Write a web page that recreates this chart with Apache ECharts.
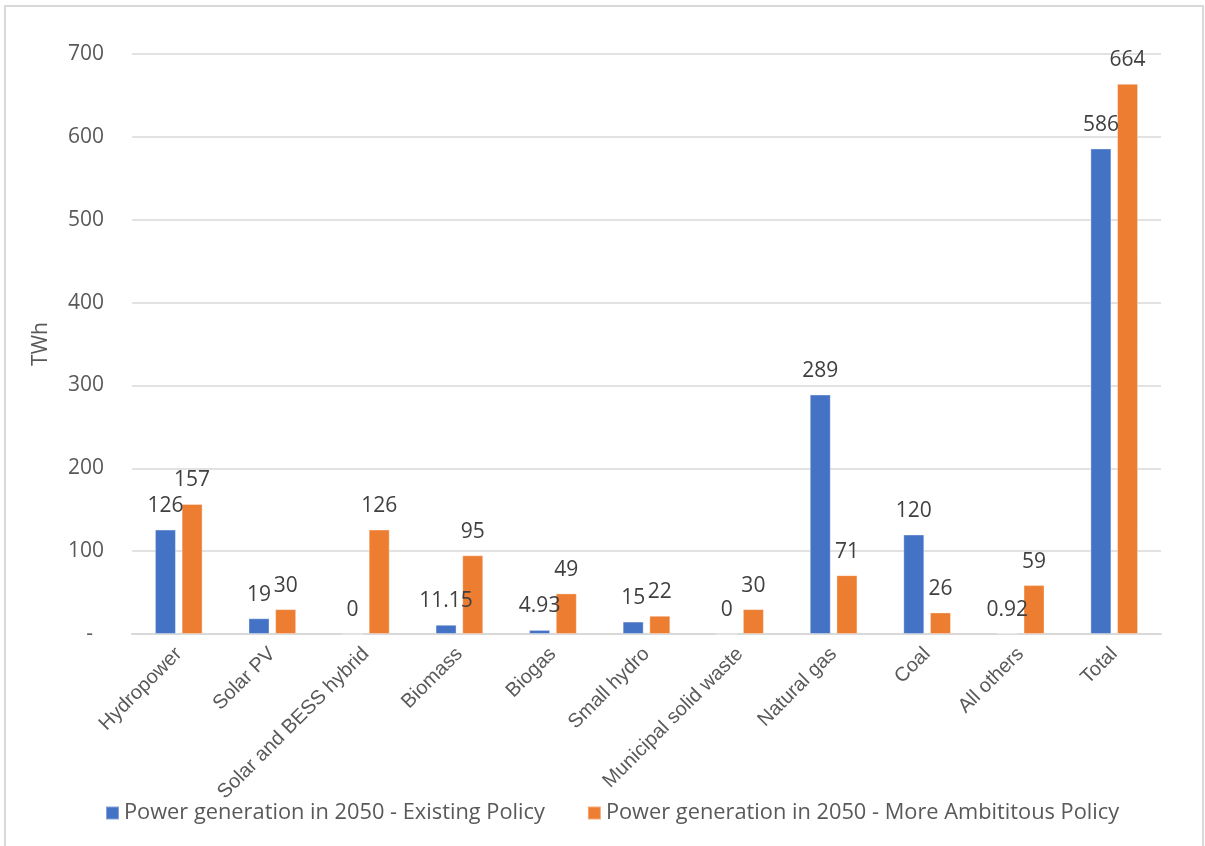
<!DOCTYPE html>
<html>
<head>
<meta charset="utf-8">
<script src="https://cdn.jsdelivr.net/npm/echarts@6/dist/echarts.min.js"></script>
<style>
  html, body { margin: 0; padding: 0; background: #ffffff; }
  #chart { width: 1205px; height: 846px; }
</style>
</head>
<body>
<div id="chart"></div>
<script>
// Power generation by source in 2050 under two policy scenarios (TWh)
const categories = [
  'Hydropower', 'Solar PV', 'Solar and BESS hybrid', 'Biomass', 'Biogas',
  'Small hydro', 'Municipal solid waste', 'Natural gas', 'Coal', 'All others', 'Total'
];
const existingPolicy = [126, 19, 0, 11.15, 4.93, 15, 0, 289, 120, 0.92, 586];
const ambitiousPolicy = [157, 30, 126, 95, 49, 22, 30, 71, 26, 59, 664];
const seriesNames = [
  'Power generation in 2050 - Existing Policy',
  'Power generation in 2050 - More Ambititous Policy'
];
const yTicks = [0, 100, 200, 300, 400, 500, 600, 700];

const numFont = '"Open Sans", "Liberation Sans", sans-serif';
const catFont = '"Liberation Sans", Arial, sans-serif';

const chart = echarts.init(document.getElementById('chart'), null, { renderer: 'canvas' });

const labelStyle = {
  show: true,
  position: 'top',
  distance: 13,
  color: '#404040',
  fontFamily: numFont,
  fontSize: 21
};

chart.setOption({
  animation: false,
  backgroundColor: '#ffffff',
  graphic: [{
    type: 'rect',
    shape: { x: 5, y: 6, width: 1198, height: 852 },
    style: { fill: 'none', stroke: '#d9d9d9', lineWidth: 2 },
    silent: true
  }],
  grid: { left: 132, right: 44, top: 54, bottom: 212, containLabel: false },
  legend: {
    left: 100,
    top: 797,
    icon: 'rect',
    itemWidth: 13,
    itemHeight: 13,
    itemGap: 42,
    textStyle: { color: '#595959', fontFamily: numFont, fontSize: 21.8 },
    data: seriesNames
  },
  xAxis: {
    type: 'category',
    data: categories,
    axisLine: { lineStyle: { color: '#d9d9d9', width: 2 } },
    axisTick: { show: false },
    axisLabel: {
      rotate: 45,
      interval: 0,
      margin: 17,
      color: '#595959',
      fontFamily: catFont,
      fontSize: 20
    }
  },
  yAxis: {
    type: 'value',
    min: yTicks[0],
    max: yTicks[yTicks.length - 1],
    interval: 100,
    name: 'TWh',
    nameLocation: 'middle',
    nameGap: 80,
    nameTextStyle: { color: '#595959', fontFamily: numFont, fontSize: 21 },
    axisLine: { show: false },
    axisTick: { show: false },
    splitLine: { lineStyle: { color: '#d9d9d9', width: 1.5 } },
    axisLabel: {
      margin: 28,
      color: '#595959',
      fontFamily: numFont,
      fontSize: 21,
      formatter: v => (v === 0 ? '-  ' : String(v))
    }
  },
  series: [
    {
      name: seriesNames[0],
      type: 'bar',
      data: existingPolicy,
      barWidth: 21,
      barGap: '27%',
      itemStyle: { color: '#4472C4', borderColor: 'rgba(255,255,255,0.35)', borderWidth: 1 },
      label: labelStyle
    },
    {
      name: seriesNames[1],
      type: 'bar',
      data: ambitiousPolicy,
      barWidth: 21,
      barGap: '27%',
      itemStyle: { color: '#ED7D31', borderColor: 'rgba(255,255,255,0.35)', borderWidth: 1 },
      label: labelStyle
    }
  ]
});
</script>
</body>
</html>
